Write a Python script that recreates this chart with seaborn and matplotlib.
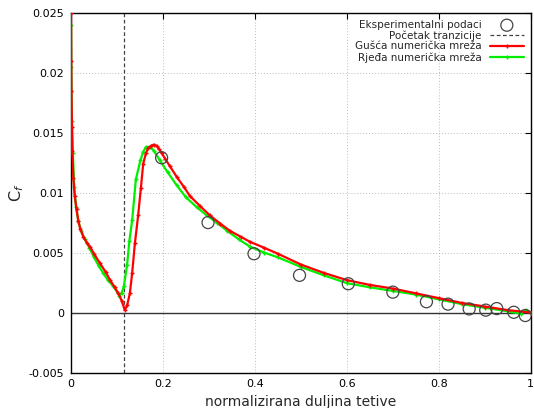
import matplotlib
matplotlib.use("Agg")
import matplotlib.pyplot as plt
import seaborn as sns
import pandas as pd

# Experimental data
exp_x = [0.197, 0.298, 0.398, 0.497, 0.603, 0.700, 0.773, 0.820, 0.866, 0.902, 0.926, 0.963, 0.988]
exp_y = [0.0129, 0.0075, 0.0049, 0.0031, 0.0024, 0.0017, 0.0009, 0.0007, 0.0003, 0.0002, 0.00033, 0.00002, -0.00025]

transition_x = 0.115

# Fine mesh (red)
fine_x = [0, 0.0005, 0.001, 0.002, 0.003, 0.005, 0.008, 0.012, 0.016, 0.02, 0.027, 0.035, 0.041,
          0.05, 0.063, 0.075, 0.085, 0.095, 0.103, 0.11, 0.117, 0.122, 0.128, 0.133, 0.139, 0.146,
          0.152, 0.157, 0.163, 0.168, 0.174, 0.18, 0.186, 0.192, 0.197, 0.205, 0.215, 0.23, 0.245,
          0.259, 0.28, 0.302, 0.325, 0.346, 0.37, 0.389, 0.42, 0.45, 0.5, 0.55, 0.6, 0.65, 0.7,
          0.75, 0.8, 0.85, 0.9, 0.95, 1.0]
fine_y = [0.025, 0.021, 0.0185, 0.0155, 0.0135, 0.0112, 0.0097, 0.0086, 0.0076, 0.0070, 0.0063,
          0.0058, 0.0055, 0.0049, 0.0041, 0.0034, 0.0027, 0.0021, 0.0016, 0.0010, 0.0002, 0.0006,
          0.0016, 0.0033, 0.0058, 0.0081, 0.0104, 0.0124, 0.0133, 0.0137, 0.0139, 0.0140, 0.0139,
          0.0136, 0.0133, 0.0128, 0.0122, 0.0113, 0.0105, 0.0097, 0.0089, 0.0081, 0.0074, 0.0068,
          0.0063, 0.0059, 0.0054, 0.0049, 0.0040, 0.0033, 0.0027, 0.0023, 0.0020, 0.0016, 0.0012,
          0.0008, 0.0005, 0.0002, 0.0]

# Coarse mesh (green)
coarse_x = [0, 0.0005, 0.001, 0.002, 0.004, 0.007, 0.011, 0.016, 0.022, 0.03, 0.04, 0.05, 0.06,
            0.07, 0.08, 0.092, 0.105, 0.11, 0.115, 0.122, 0.127, 0.133, 0.141, 0.151, 0.157, 0.163,
            0.172, 0.18, 0.193, 0.21, 0.23, 0.25, 0.273, 0.295, 0.317, 0.34, 0.365, 0.389, 0.42,
            0.45, 0.5, 0.55, 0.6, 0.65, 0.7, 0.75, 0.8, 0.85, 0.9, 0.95, 0.978, 0.99, 1.0]
coarse_y = [0.024, 0.0205, 0.0185, 0.016, 0.0133, 0.0105, 0.0088, 0.0076, 0.0068, 0.0061, 0.0054,
            0.0046, 0.0039, 0.0033, 0.0027, 0.0022, 0.0014, 0.0016, 0.0022, 0.0040, 0.0060, 0.0077,
            0.0111, 0.0127, 0.0134, 0.0138, 0.0138, 0.0135, 0.0127, 0.0117, 0.0106, 0.0096, 0.0088,
            0.0081, 0.0075, 0.0068, 0.0061, 0.0055, 0.0050, 0.0046, 0.0038, 0.0031, 0.00245, 0.0021,
            0.0018, 0.0015, 0.0011, 0.0007, 0.0004, 0.0001, -0.0001, 0.0002, 0.0]

x_ticks = [0, 0.2, 0.4, 0.6, 0.8, 1.0]
x_tick_labels = ["0", "0.2", "0.4", "0.6", "0.8", "1"]
y_ticks = [-0.005, 0, 0.005, 0.01, 0.015, 0.02, 0.025]
y_tick_labels = ["-0.005", "0", "0.005", "0.01", "0.015", "0.02", "0.025"]

sns.set_style("white")
plt.rcParams['font.family'] = ['DejaVu Sans']

fig = plt.figure(figsize=(5.34, 4.08), dpi=100)
ax = fig.add_axes([0.133, 0.087, 0.861, 0.882])

ax.axhline(0, color="#333333", lw=1.0, zorder=1)

sns.scatterplot(x=exp_x, y=exp_y, ax=ax, marker="o", s=75, facecolor="none",
                edgecolor="#444444", linewidth=0.9, label="Eksperimentalni podaci", zorder=5)
ax.axvline(transition_x, color="#444444", lw=0.9, ls=(0, (3, 2)), label="Početak tranzicije", zorder=2)
sns.lineplot(x=fine_x, y=fine_y, ax=ax, color="#ff0000", lw=1.6, linestyle="-", marker="+",
             markersize=3.5, markeredgewidth=1.0, markeredgecolor="#ff0000",
             estimator=None, sort=False, label="Gušća numerička mreža", zorder=4)
sns.lineplot(x=coarse_x, y=coarse_y, ax=ax, color="#00ee00", lw=1.6, linestyle="-", marker="+",
             markersize=3.5, markeredgewidth=1.0, markeredgecolor="#00ee00",
             estimator=None, sort=False, label="Rjeđa numerička mreža", zorder=3)

ax.set_xlim(0, 1)
ax.set_ylim(-0.005, 0.025)
ax.set_xticks(x_ticks)
ax.set_xticklabels(x_tick_labels)
ax.set_yticks(y_ticks)
ax.set_yticklabels(y_tick_labels)
ax.tick_params(direction="in", length=4, width=0.8, labelsize=8, colors="black",
               top=True, right=True, pad=5)
ax.grid(True, color="#bbbbbb", ls=(0, (1, 2)), lw=0.7)
for s in ax.spines.values():
    s.set_color("black")
    s.set_linewidth(1.0)

ax.set_xlabel("normalizirana duljina tetive", fontsize=10, labelpad=4)
ax.set_ylabel("C$_f$", fontsize=11.5, labelpad=2)

leg = ax.legend(loc="upper right", frameon=False, markerfirst=False, fontsize=7.5,
                handlelength=3.2, labelspacing=0.05, borderaxespad=0.3, handletextpad=0.8)

fig.savefig("out.png", dpi=100)
